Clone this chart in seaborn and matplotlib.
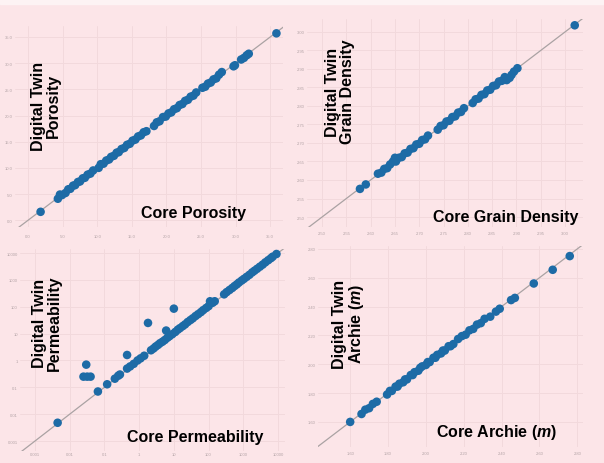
import numpy as np
import pandas as pd
import matplotlib
matplotlib.use("Agg")
import matplotlib.pyplot as plt
import seaborn as sns
from matplotlib.patches import Rectangle

# Data
core_por = [1.8, 4.3, 4.6, 4.9, 5.4, 5.8, 6.1, 6.5, 6.8, 7.2, 7.5, 7.9, 8.2, 8.6, 9.0, 9.4,
            10.2, 10.5, 10.9, 11.3, 11.7, 12.0, 12.4, 12.8, 13.1, 13.5, 13.9, 14.3, 14.7, 15.1,
            15.5, 15.9, 16.3, 16.7, 17.1, 18.2, 18.6, 19.0, 19.5, 19.9, 20.3, 20.7, 21.1, 21.5,
            21.9, 22.3, 22.7, 23.1, 23.5, 23.9, 24.3, 25.2, 25.6, 26.0, 26.4, 26.8, 27.2, 27.6,
            28.0, 29.7, 29.9, 30.8, 31.2, 31.6, 31.9, 35.9]
twin_por = [1.6, 4.1, 4.9, 4.8, 5.2, 5.9, 6.0, 6.6, 6.7, 7.3, 7.4, 8.0, 8.1, 8.7, 8.9, 9.5,
            10.0, 10.7, 10.8, 11.4, 11.6, 12.1, 12.3, 12.9, 13.0, 13.6, 13.8, 14.4, 14.6, 15.2,
            15.4, 16.0, 16.2, 16.8, 17.0, 18.0, 18.7, 18.9, 19.7, 19.8, 20.4, 20.6, 21.2, 21.4,
            22.0, 22.2, 22.8, 23.0, 23.6, 23.8, 24.4, 25.3, 25.5, 26.1, 26.3, 26.9, 27.1, 27.8,
            28.3, 29.4, 29.6, 30.7, 31.0, 31.5, 31.8, 35.7]

core_gd = [2.578, 2.590, 2.615, 2.622, 2.628, 2.634, 2.640, 2.646, 2.650, 2.652, 2.658, 2.664,
           2.670, 2.676, 2.682, 2.688, 2.694, 2.700, 2.706, 2.712, 2.718, 2.738, 2.744, 2.750,
           2.756, 2.762, 2.768, 2.774, 2.780, 2.786, 2.792, 2.810, 2.816, 2.822, 2.828, 2.834,
           2.840, 2.846, 2.852, 2.858, 2.864, 2.870, 2.876, 2.880, 2.886, 2.890, 2.895, 2.902, 3.020]
twin_gd = [2.576, 2.588, 2.617, 2.620, 2.630, 2.632, 2.642, 2.650, 2.660, 2.650, 2.660, 2.662,
           2.672, 2.674, 2.684, 2.686, 2.696, 2.698, 2.708, 2.710, 2.720, 2.736, 2.746, 2.748,
           2.758, 2.760, 2.770, 2.772, 2.782, 2.784, 2.794, 2.808, 2.818, 2.820, 2.830, 2.832,
           2.842, 2.844, 2.854, 2.856, 2.866, 2.868, 2.878, 2.870, 2.876, 2.884, 2.893, 2.902, 3.018]

core_perm = [0.0045, 0.025, 0.03, 0.032, 0.04, 0.065, 0.12, 0.2, 0.25, 0.28, 0.45, 0.45, 0.55,
             0.7, 0.9, 1.1, 1.4, 1.8, 2.2, 2.6, 3.0, 3.5, 4.0, 4.7, 5.5, 6.0, 6.5, 7.5, 9.0, 10,
             11, 13, 15, 18, 21, 25, 30, 35, 42, 50, 60, 70, 85, 100, 110, 130, 150, 280, 330,
             400, 480, 560, 650, 750, 900, 1050, 1250, 1500, 1800, 2100, 2500, 3000, 3600, 4300,
             5200, 6200, 7000, 9000]
twin_perm = [0.0048, 0.25, 0.7, 0.25, 0.25, 0.07, 0.13, 0.21, 0.27, 0.3, 1.6, 0.5, 0.6,
             0.75, 1.0, 1.2, 1.5, 25, 2.4, 2.8, 3.3, 3.8, 4.4, 5.0, 5.8, 13, 7.0, 8.0, 9.5, 85,
             11.5, 14, 16, 19, 22, 27, 32, 37, 45, 53, 63, 75, 90, 105, 160, 140, 160, 290, 350,
             420, 500, 590, 680, 800, 950, 1100, 1300, 1550, 1900, 2200, 2600, 3100, 3700, 4500,
             5400, 6400, 7300, 9200]

core_m = [1.60, 1.66, 1.68, 1.70, 1.72, 1.74, 1.795, 1.81, 1.82, 1.84, 1.85, 1.86, 1.88, 1.89,
          1.90, 1.92, 1.93, 1.94, 1.96, 1.97, 1.98, 2.00, 2.01, 2.02, 2.04, 2.05, 2.06, 2.08,
          2.09, 2.10, 2.12, 2.13, 2.145, 2.17, 2.19, 2.21, 2.23, 2.25, 2.27, 2.29, 2.31, 2.34,
          2.37, 2.39, 2.45, 2.47, 2.57, 2.67, 2.76]
twin_m = [1.60, 1.655, 1.685, 1.695, 1.725, 1.74, 1.79, 1.815, 1.815, 1.845, 1.845, 1.865,
          1.875, 1.895, 1.895, 1.925, 1.925, 1.945, 1.955, 1.975, 1.985, 1.995, 2.015, 2.015,
          2.045, 2.045, 2.065, 2.075, 2.095, 2.095, 2.125, 2.125, 2.14, 2.175, 2.195, 2.205,
          2.235, 2.245, 2.275, 2.285, 2.315, 2.33, 2.365, 2.385, 2.445, 2.46, 2.56, 2.655, 2.75]

por_ticks = [0, 5, 10, 15, 20, 25, 30, 35]
gd_ticks = [2.50, 2.55, 2.60, 2.65, 2.70, 2.75, 2.80, 2.85, 2.90, 2.95, 3.00]
perm_ticks = [0.001, 0.01, 0.1, 1, 10, 100, 1000, 10000]
perm_labels = ['0.001', '0.01', '0.1', '1', '10', '100', '1000', '10000']
m_ticks = [1.6, 1.8, 2.0, 2.2, 2.4, 2.6, 2.8]

BG = '#fce5e8'
DOT = '#1d6ba6'

sns.set_style('whitegrid', {'axes.facecolor': BG, 'figure.facecolor': BG,
                            'grid.color': '#f2d9dc', 'axes.edgecolor': BG})
plt.rcParams['font.family'] = ['Liberation Sans', 'DejaVu Sans']
plt.rcParams['mathtext.fontset'] = 'custom'
plt.rcParams['mathtext.bfit'] = 'Liberation Sans:italic:bold'
plt.rcParams['mathtext.rm'] = 'Liberation Sans:bold'

W, H = 604, 464
fig = plt.figure(figsize=(W / 100, H / 100), dpi=100)
fig.patches.append(Rectangle((0, 1 - 5 / H), 1, 5 / H, transform=fig.transFigure,
                             color='#fdf3f4', zorder=0))


def add_ax(x0, x1, y0, y1):
    # pixel box -> figure fraction
    return fig.add_axes([x0 / W, 1 - y1 / H, (x1 - x0) / W, (y1 - y0) / H])


def style(ax, xticks, yticks, xlim, ylim, xpad, fmt=None, labels=None):
    ax.set_xlim(xlim)
    ax.set_ylim(ylim)
    ax.set_xticks(xticks)
    ax.set_yticks(yticks)
    if labels is not None:
        ax.set_xticklabels(labels)
        ax.set_yticklabels(labels)
    else:
        ax.set_xticklabels([fmt.format(t) for t in xticks])
        ax.set_yticklabels([fmt.format(t) for t in yticks])
    ax.tick_params(axis='both', labelsize=3, colors='#b3a3a6', length=0)
    ax.tick_params(axis='x', pad=xpad)
    ax.tick_params(axis='y', pad=1.5)
    ax.grid(True, lw=0.7)
    ax.minorticks_off()
    for s in ax.spines.values():
        s.set_visible(False)
    ax.set_xlabel('')
    ax.set_ylabel('')


def diag(ax, lims):
    ax.plot(lims, lims, color='#aaa2a3', lw=0.9, zorder=1)


def scatter(ax, x, y):
    df = pd.DataFrame({'core': x, 'twin': y})
    sns.scatterplot(data=df, x='core', y='twin', ax=ax, color=DOT, s=38,
                    edgecolor='none', linewidth=0, zorder=3)


# Porosity
ax1 = add_ax(15, 283, 27, 228)
diag(ax1, [-1.9, 37.1])
scatter(ax1, core_por, twin_por)
style(ax1, por_ticks, por_ticks, (-1.9, 36.85), (-1.3, 37.1), 5, fmt='{:.1f}')

# Grain density
ax2 = add_ax(307, 583, 20, 228)
diag(ax2, [2.46, 3.04])
scatter(ax2, core_gd, twin_gd)
style(ax2, gd_ticks, gd_ticks, (2.469, 3.037), (2.473, 3.035), 3, fmt='{:.2f}')

# Permeability
ax3 = add_ax(20, 285, 250, 452)
ax3.set_xscale('log')
ax3.set_yscale('log')
diag(ax3, [10 ** -3.43, 10 ** 4.2])
scatter(ax3, core_perm, twin_perm)
style(ax3, perm_ticks, perm_ticks, (10 ** -3.43, 10 ** 4.2), (10 ** -3.37, 10 ** 4.15), 1,
      labels=perm_labels)

# Archie m
ax4 = add_ax(318, 583, 247, 448)
diag(ax4, [1.42, 2.84])
scatter(ax4, core_m, twin_m)
style(ax4, m_ticks, m_ticks, (1.43, 2.83), (1.426, 2.82), 3, fmt='{:.2f}')

# big bold labels drawn inside the panels
lab = dict(fontsize=11.5, fontweight='bold', color='black')
fig.text(194 / W, 1 - 218 / H, 'Core Porosity', ha='center', va='baseline', **lab)
fig.text(506 / W, 1 - 222 / H, 'Core Grain Density', ha='center', va='baseline', **lab)
fig.text(195 / W, 1 - 442 / H, 'Core Permeability', ha='center', va='baseline', **lab)
fig.text(497 / W, 1 - 437 / H, r'Core Archie ($\mathbfit{m}$)', ha='center', va='baseline', **lab)

ylab = dict(rotation=90, ha='center', va='center', multialignment='center', linespacing=0.95, **lab)
fig.text(46 / W, 1 - 106 / H, 'Digital Twin\nPorosity', **ylab)
fig.text(340 / W, 1 - 92 / H, 'Digital Twin\nGrain Density', **ylab)
fig.text(47 / W, 1 - 323 / H, 'Digital Twin\nPermeability', **ylab)
fig.text(349 / W, 1 - 324 / H, 'Digital Twin\n' + r'Archie ($\mathbfit{m}$)', **ylab)

fig.savefig('out.png', dpi=100, facecolor=BG)
